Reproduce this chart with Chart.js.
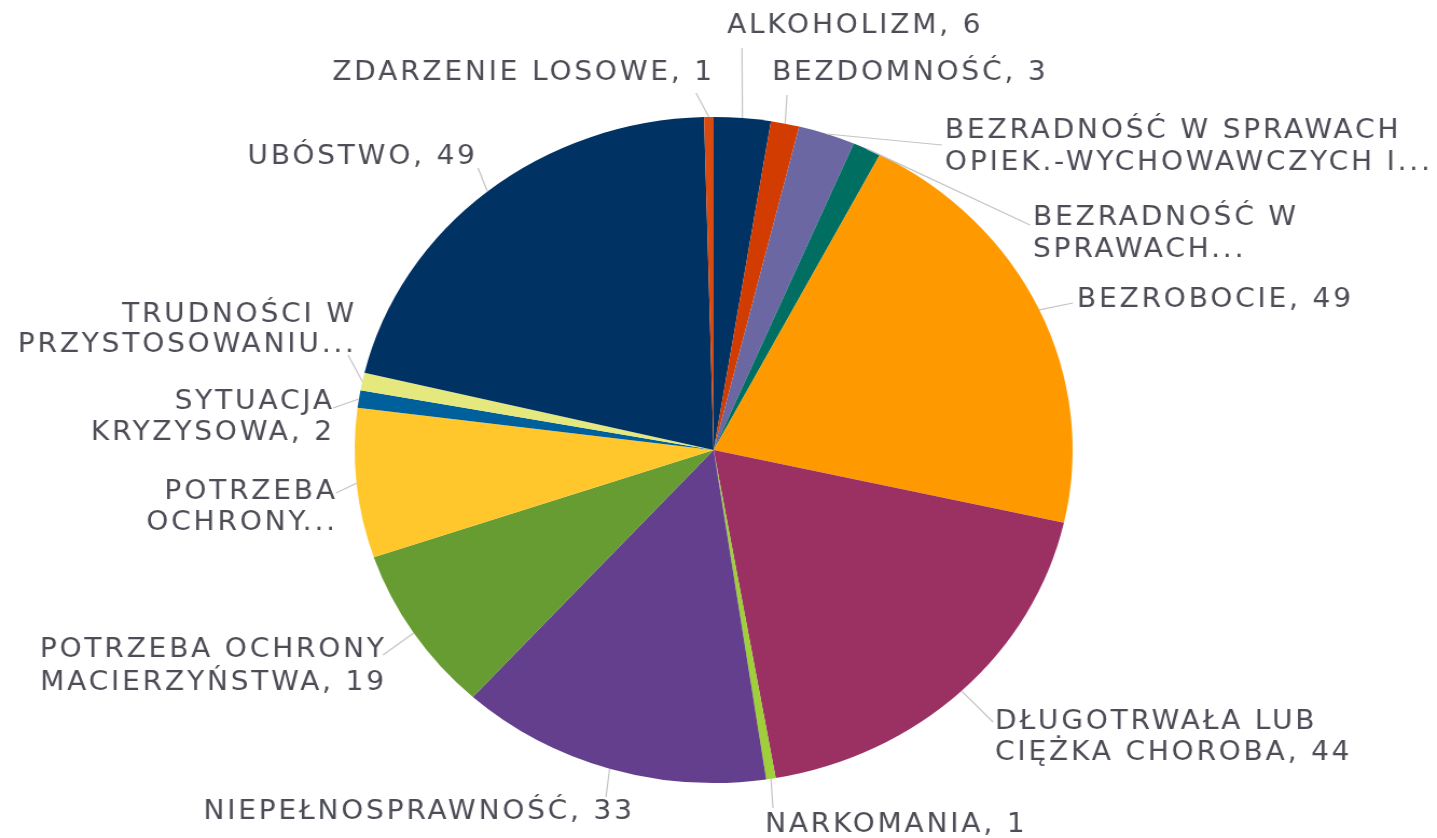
<!DOCTYPE html>
<html>
<head>
<meta charset="utf-8">
<script src="https://cdn.jsdelivr.net/npm/chart.js@4.4.0/dist/chart.umd.min.js"></script>
<style>
  html, body { margin: 0; padding: 0; background: #fff; overflow: hidden; }
  #wrap { width: 1333px; height: 838px; transform: scaleX(1.078); transform-origin: 0 0; }
</style>
</head>
<body>
<div id="wrap"><canvas id="pieChart"></canvas></div>
<script>
// dane z wykresu (liczba rodzin wg powodu przyznania pomocy)
const categories = [
    ['ALKOHOLIZM, 6'],
    ['BEZDOMNOŚĆ, 3'],
    ['BEZRADNOŚĆ W SPRAWACH', 'OPIEK.-WYCHOWAWCZYCH I...'],
    ['BEZRADNOŚĆ W', 'SPRAWACH...'],
    ['BEZROBOCIE, 49'],
    ['DŁUGOTRWAŁA LUB', 'CIĘŻKA CHOROBA, 44'],
    ['NARKOMANIA, 1'],
    ['NIEPEŁNOSPRAWNOŚĆ, 33'],
    ['POTRZEBA OCHRONY', 'MACIERZYŃSTWA, 19'],
    ['POTRZEBA', 'OCHRONY...'],
    ['SYTUACJA', 'KRYZYSOWA, 2'],
    ['TRUDNOŚCI W', 'PRZYSTOSOWANIU...'],
    ['UBÓSTWO, 49'],
    ['ZDARZENIE LOSOWE, 1']
];
const values = [6, 3, 6, 3, 49, 44, 1, 33, 19, 17, 2, 2, 49, 1];
const colors = ['#003264', '#d23c00', '#6b67a3', '#006e61', '#ff9900', '#9b3063', '#9fd03a',
                '#633f8e', '#669c32', '#ffc72c', '#00609c', '#e5e87c', '#003264', '#d94a10'];

// rozmieszczenie etykiet (w pikselach ekranu): koniec linii, x tekstu, środki wierszy
const labelLayout = [
    { lx: 742, ly: 48, tx: 727, ty: [26], align: 'left' },
    { lx: 787, ly: 95, tx: 772, ty: [73], align: 'left' },
    { lx: 942, ly: 145, tx: 945, ty: [131, 163], align: 'left' },
    { lx: 1030, ly: 225, tx: 1033, ty: [218, 250], align: 'left' },
    { lx: 1073, ly: 303, tx: 1077, ty: [300], align: 'left' },
    { lx: 993, ly: 722, tx: 995, ty: [722, 753], align: 'left' },
    { lx: 773, ly: 808, tx: 765, ty: [825], align: 'left' },
    { lx: 606, ly: 797, tx: 632, ty: [812], align: 'right' },
    { lx: 383, ly: 655, tx: 384, ty: [650, 683], align: 'right' },
    { lx: 336, ly: 493, tx: 335, ty: [492, 523], align: 'right' },
    { lx: 333, ly: 408, tx: 332, ty: [402, 433], align: 'right' },
    { lx: 348, ly: 355, tx: 354, ty: [315, 345], align: 'right' },
    { lx: 478, ly: 168, tx: 475, ty: [157], align: 'right' },
    { lx: 696, ly: 93, tx: 712, ty: [73], align: 'right' }
];

const SX = 1.078; // wykres w oryginale jest rozciągnięty w poziomie
const SPACING = 2.6;

const leaderLabels = {
    id: 'leaderLabels',
    afterDatasetsDraw(chart) {
        const ctx = chart.ctx;
        const arcs = chart.getDatasetMeta(0).data;
        ctx.save();
        ctx.font = '26px "DejaVu Sans"';
        ctx.letterSpacing = SPACING + 'px';
        ctx.textBaseline = 'middle';
        arcs.forEach((arc, i) => {
            const p = arc.getProps(['x', 'y', 'startAngle', 'endAngle', 'outerRadius'], true);
            const mid = (p.startAngle + p.endAngle) / 2;
            const sx = p.x + Math.cos(mid) * p.outerRadius;
            const sy = p.y + Math.sin(mid) * p.outerRadius;
            const l = labelLayout[i];
            ctx.strokeStyle = '#c4c4c4';
            ctx.lineWidth = 1.2;
            ctx.beginPath();
            ctx.moveTo(sx, sy);
            ctx.lineTo(l.lx / SX, l.ly);
            ctx.stroke();

            ctx.fillStyle = '#4d4d57';
            ctx.textAlign = l.align;
            categories[i].forEach((line, j) => {
                let x = l.tx / SX;
                if (l.align === 'right') x += SPACING; // odstęp po ostatniej literze
                ctx.fillText(line, x, l.ty[j]);
            });
        });
        ctx.restore();
    }
};

document.addEventListener('DOMContentLoaded', () => {
    const ctx = document.getElementById('pieChart').getContext('2d');
    new Chart(ctx, {
        type: 'pie',
        data: {
            labels: categories.map(c => c.join(' ')),
            datasets: [{
                data: values,
                backgroundColor: colors,
                borderWidth: 0
            }]
        },
        options: {
            responsive: true,
            maintainAspectRatio: false,
            animation: false,
            layout: { padding: { top: 117, bottom: 55, left: 329, right: 338 } },
            plugins: {
                legend: { display: false },
                tooltip: { enabled: false }
            }
        },
        plugins: [leaderLabels]
    });
});
</script>
</body>
</html>
